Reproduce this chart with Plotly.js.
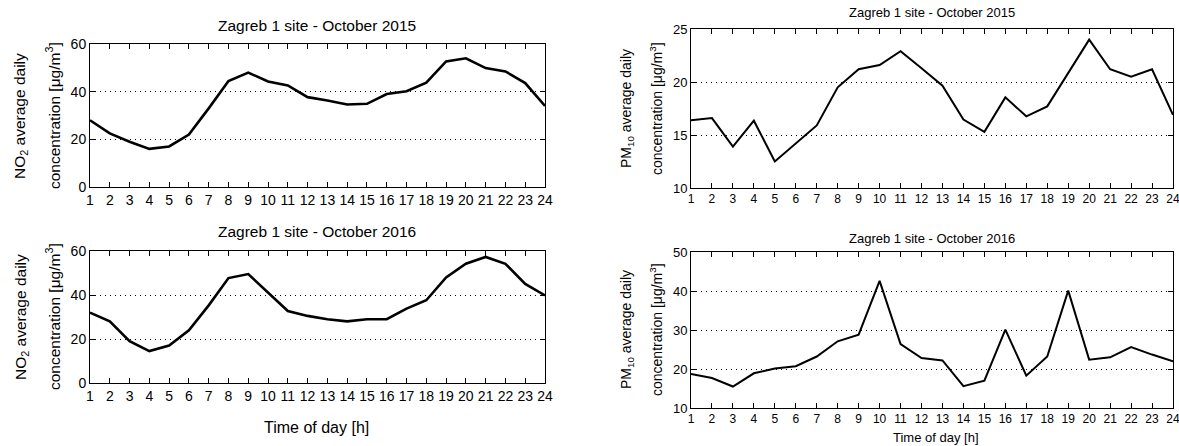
<!DOCTYPE html>
<html>
<head>
<meta charset="utf-8">
<script src="https://cdn.plot.ly/plotly-3.0.1.min.js"></script>
<style>html,body{margin:0;padding:0;background:#fff;}#chart{width:1179px;height:446px;}</style>
</head>
<body>
<div id="chart"></div>
<script>
// Data
const hours = [1,2,3,4,5,6,7,8,9,10,11,12,13,14,15,16,17,18,19,20,21,22,23,24];
const no2_2015 = [28,22.5,19,16,17,22,33,44.5,48,44.3,42.6,37.7,36.3,34.6,34.9,39,40.2,43.8,52.7,54,49.9,48.5,43.6,34];
const no2_2016 = [32,28,19,14.5,17,24,35.3,47.7,49.5,41,32.7,30.5,29,28,29,29,33.8,37.6,48,54.2,57.3,54.2,45,39.8];
const pm10_2015 = [16.4,16.6,13.9,16.35,12.5,14.2,15.9,19.5,21.2,21.6,22.9,21.3,19.65,16.45,15.3,18.55,16.76,17.7,20.9,24.0,21.2,20.5,21.2,16.9];
const pm10_2016 = [18.7,17.7,15.5,18.9,20.1,20.7,23.2,27.1,28.8,42.6,26.4,22.8,22.2,15.6,17.0,30.1,18.3,23.2,40.1,22.4,23.0,25.6,23.7,22.0];
const title2015 = "Zagreb 1 site - October 2015";
const title2016 = "Zagreb 1 site - October 2016";
const xTitle = "Time of day [h]";
const no2Label1 = "NO<sub>2</sub> average daily";
const pm10Label1 = "PM<sub>10</sub> average daily";
const concLabel = "concentration [μg/m<sup>3</sup>]";

const W = 1179, H = 446;
const px = x => x / W;
const py = y => 1 - y / H;
const FONT = "Liberation Sans, Arial, sans-serif";

function xax(domain, fs) {
  return {domain: domain, range: [1, 24], tickvals: hours, ticktext: hours.map(String),
    ticks: 'inside', ticklen: 5, tickcolor: '#000', mirror: 'ticks', showline: true,
    linecolor: '#000', linewidth: 1, showgrid: false, zeroline: false, ticklabeloverflow: 'allow',
    tickfont: {family: FONT, size: fs, color: '#000'}, fixedrange: true};
}
function yax(domain, range, dtick, fs, anchor) {
  return {domain: domain, range: range, dtick: dtick, tick0: range[0], anchor: anchor,
    ticks: 'inside', ticklen: 5, tickcolor: '#000', mirror: 'ticks', showline: true,
    linecolor: '#000', linewidth: 1, showgrid: true, gridcolor: '#000', griddash: '1px,4px',
    gridwidth: 1, zeroline: false, tickfont: {family: FONT, size: fs, color: '#000'}, fixedrange: true};
}

const traces = [
  {x: hours, y: no2_2015, xaxis: 'x', yaxis: 'y', mode: 'lines', line: {color: '#000', width: 2.6}},
  {x: hours, y: pm10_2015, xaxis: 'x2', yaxis: 'y2', mode: 'lines', line: {color: '#000', width: 2}},
  {x: hours, y: no2_2016, xaxis: 'x3', yaxis: 'y3', mode: 'lines', line: {color: '#000', width: 2.6}},
  {x: hours, y: pm10_2016, xaxis: 'x4', yaxis: 'y4', mode: 'lines', line: {color: '#000', width: 2}}
];

const Lx = [px(90), px(545)], Rx = [px(691), px(1173)];
function ann(text, x, y, size, angle) {
  return {text: text, xref: 'paper', yref: 'paper', x: px(x), y: py(y), xanchor: 'center', yanchor: 'middle',
    showarrow: false, textangle: angle || 0, font: {family: FONT, size: size, color: '#000'}};
}

const layout = {
  width: W, height: H, margin: {l: 0, r: 0, t: 0, b: 0}, showlegend: false,
  paper_bgcolor: '#fff', plot_bgcolor: '#fff',
  xaxis: xax(Lx, 14), yaxis: yax([py(187), py(44)], [0, 60], 20, 14, 'x'),
  xaxis2: Object.assign(xax(Rx, 12), {anchor: 'y2'}), yaxis2: yax([py(188), py(29)], [10, 25], 5, 13, 'x2'),
  xaxis3: Object.assign(xax(Lx, 14), {anchor: 'y3'}), yaxis3: yax([py(383), py(251)], [0, 60], 20, 14, 'x3'),
  xaxis4: Object.assign(xax(Rx, 12), {anchor: 'y4'}), yaxis4: yax([py(408), py(252)], [10, 50], 10, 13, 'x4'),
  annotations: [
    ann(title2015, 317, 26, 15.5), ann(title2016, 317, 231, 15.5),
    ann(title2015, 932, 13, 13), ann(title2016, 932, 238, 13),
    ann(xTitle, 316, 427, 16), ann(xTitle, 936, 437, 13),
    ann(no2Label1, 21, 116, 15.5, -90), ann(concLabel, 53, 116, 15.5, -90),
    ann(no2Label1, 21, 317, 15.5, -90), ann(concLabel, 53, 317, 15.5, -90),
    ann(pm10Label1, 627, 109, 14, -90), ann(concLabel, 656, 109, 14, -90),
    ann(pm10Label1, 627, 330, 14, -90), ann(concLabel, 656, 330, 14, -90)
  ]
};

Plotly.newPlot('chart', traces, layout, {staticPlot: true, displayModeBar: false});
</script>
</body>
</html>
